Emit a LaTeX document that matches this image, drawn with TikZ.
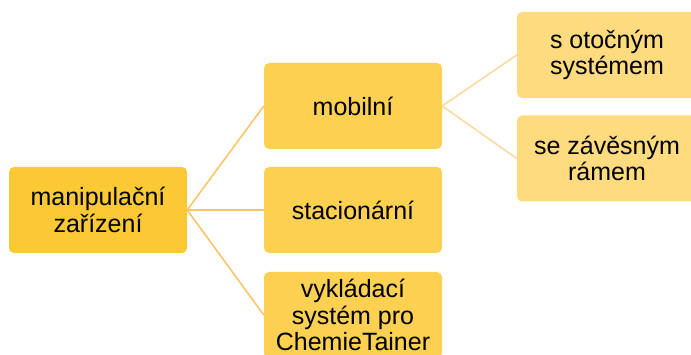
\documentclass[tikz,border=0pt]{standalone}
\usepackage{fontspec}
\setmainfont{Liberation Sans}
\definecolor{c1}{HTML}{FBC934}
\definecolor{c2}{HTML}{FCD152}
\definecolor{c3}{HTML}{FDDB7E}
\definecolor{l1}{HTML}{F9C56A}
\definecolor{l2}{HTML}{FCD9A4}
\tikzset{
  box/.style={rectangle, rounded corners=5pt, minimum width=178pt, minimum height=86pt, inner sep=0pt, align=center, font=\fontsize{25}{26.5}\selectfont},
  lvl1/.style={box, fill=c1},
  lvl2/.style={box, fill=c2},
  lvl3/.style={box, fill=c3, minimum width=180pt},
  con1/.style={draw=l1, line width=1.6pt},
  con2/.style={draw=l2, line width=1.6pt},
}
\begin{document}
\begin{tikzpicture}[x=1pt,y=-1pt]
\useasboundingbox (0,0) rectangle (691,355);
\clip (0,0) rectangle (691,355);
\node[lvl1] (root) at (98,210) {manipulační\\zařízení};
\node[lvl2] (mob) at (353,106) {mobilní};
\node[lvl2] (sta) at (353,210) {stacionární};
\node[lvl2] (vyk) at (353,315) {vykládací\\systém pro\\ChemieTainer};
\node[lvl3] (oto) at (607,55) {s otočným\\systémem};
\node[lvl3] (zav) at (607,158.5) {se závěsným\\rámem};
\draw[con1] (root.east) -- (mob.west);
\draw[con1] (root.east) -- (sta.west);
\draw[con1] (root.east) -- (vyk.west);
\draw[con2] (mob.east) -- (oto.west);
\draw[con2] (mob.east) -- (zav.west);
\end{tikzpicture}
\end{document}
